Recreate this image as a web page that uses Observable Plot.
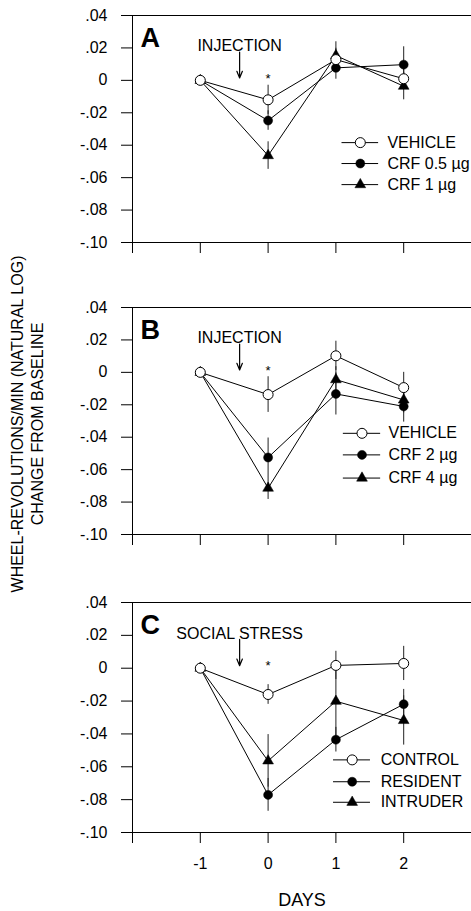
<!DOCTYPE html>
<html>
<head>
<meta charset="utf-8">
<script src="https://cdn.jsdelivr.net/npm/d3@7"></script>
<script src="https://cdn.jsdelivr.net/npm/@observablehq/plot@0.6"></script>
<style>
  html, body { margin: 0; padding: 0; background: #fff; }
  #wrap { position: relative; width: 471px; height: 911px; background: #fff; overflow: hidden;
          font-family: "Liberation Sans", Arial, Helvetica, sans-serif; color: #000; }
  .panel { position: absolute; left: 0; }
  #ytitle { position: absolute; left: 28px; top: 424px; transform: translate(-50%, -50%) rotate(-90deg);
            white-space: nowrap; text-align: center; font-size: 16px; line-height: 20px; }
</style>
</head>
<body>
<div id="wrap">
  <div id="ytitle">WHEEL-REVOLUTIONS/MIN (NATURAL LOG)<br>CHANGE FROM BASELINE</div>
</div>
<script>
// ---------- data ----------
const days = [-1, 0, 1, 2];
const yTicks = [0.04, 0.02, 0, -0.02, -0.04, -0.06, -0.08, -0.10];
const yTickLabels = [".04", ".02", "0", "-.02", "-.04", "-.06", "-.08", "-.10"];
const xTicks = [-2, -1, 0, 1, 2];
const xTickLabels = ["", "-1", "0", "1", "2"];

// Panel A
const aNames = ["VEHICLE", "CRF 0.5 \u00b5g", "CRF 1 \u00b5g"];
const aVehicle = [0, -0.012, 0.0128, 0.001];
const aVehicleErr = [0, 0.009, 0.007, 0.006];
const aCrf05 = [0, -0.0248, 0.0077, 0.0097];
const aCrf05Err = [0, 0.006, 0.007, 0.011];
const aCrf1 = [0, -0.0464, 0.0153, -0.0036];
const aCrf1Err = [0, 0.0085, 0.0085, 0.0084];

// Panel B
const bNames = ["VEHICLE", "CRF 2 \u00b5g", "CRF 4 \u00b5g"];
const bVehicle = [0, -0.0137, 0.0102, -0.0094];
const bVehicleErr = [0, 0.011, 0.009, 0.0094];
const bCrf2 = [0, -0.0525, -0.0133, -0.021];
const bCrf2Err = [0, 0.012, 0.013, 0.0097];
const bCrf4 = [0, -0.0714, -0.0045, -0.017];
const bCrf4Err = [0, 0.007, 0.008, 0.008];

// Panel C
const cNames = ["CONTROL", "RESIDENT", "INTRUDER"];
const cControl = [0, -0.016, 0.0017, 0.0029];
const cControlErr = [0, 0.006, 0.0086, 0.0104];
const cResident = [0, -0.0771, -0.0435, -0.0219];
const cResidentErr = [0, 0.010, 0.0075, 0.009];
const cIntruder = [0, -0.0564, -0.0201, -0.0318];
const cIntruderErr = [0, 0.016, 0.022, 0.015];

// ---------- drawing ----------
const FONT = '"Liberation Sans", Arial, Helvetica, sans-serif';
const markerStyle = {
  open: {symbol: "circle", r: 5, fill: "white", stroke: "black", strokeWidth: 1},
  filled: {symbol: "circle", r: 4.5, fill: "black", stroke: "black", strokeWidth: 0.5},
  triangle: {symbol: "triangle", r: 4, fill: "black", stroke: "black", strokeWidth: 0.5}
};
const kinds = ["open", "filled", "triangle"];

function rowsOf(name, vals, errs, kind) {
  return days.map((d, i) => ({day: d, value: vals[i], err: errs[i], series: name, kind}));
}

function panel({letter, note, groups, legend, top, height, marginBottom, showXLabels}) {
  const marks = [
    Plot.ruleY([0.04, -0.10], {stroke: "black", strokeWidth: 1}),
    Plot.ruleX([-2], {stroke: "black", strokeWidth: 1}),
    Plot.axisY({ticks: yTicks, tickSize: 11, tickPadding: 14, label: null,
      tickFormat: v => yTickLabels[yTicks.findIndex(t => Math.abs(t - v) < 1e-9)]}),
    Plot.axisX({ticks: xTicks, tickSize: 11, tickPadding: 14, label: null,
      tickFormat: v => showXLabels ? xTickLabels[xTicks.indexOf(v)] : ""})
  ];
  // error bars
  for (const g of groups) {
    marks.push(Plot.ruleX(g.rows.filter(d => d.err > 0), {
      x: "day", y1: d => d.value - d.err, y2: d => d.value + d.err, stroke: "#222", strokeWidth: 1
    }));
  }
  // lines
  for (const g of groups) {
    marks.push(Plot.line(g.rows, {x: "day", y: "value", stroke: "black", strokeWidth: 1}));
  }
  // markers (open circles drawn last so they sit on top)
  for (const g of [...groups].reverse()) {
    marks.push(Plot.dot(g.rows, {x: "day", y: "value", ...markerStyle[g.kind]}));
  }
  // asterisk, arrow, note, panel letter
  marks.push(Plot.text([{x: 0, y: 0, t: "*"}], {x: "x", y: "y", text: "t", dy: -2, fontSize: 13}));
  marks.push(Plot.arrow([{x: -0.42, y1: 0.0175, y2: 0.0015}], {
    x1: "x", x2: "x", y1: "y1", y2: "y2", stroke: "black", strokeWidth: 1.2, headLength: 9, headAngle: 45
  }));
  marks.push(Plot.text([{x: -0.42, y: 0.0212, t: note}], {x: "x", y: "y", text: "t", fontSize: 16}));
  marks.push(Plot.text([{x: -1.74, y: 0.0258, t: letter}], {x: "x", y: "y", text: "t", fontSize: 27, fontWeight: "bold"}));
  // legend
  groups.forEach((g, i) => {
    const ly = legend.ys[i];
    marks.push(Plot.ruleY([{y: ly}], {y: "y", x1: legend.x1, x2: legend.x2, stroke: "black", strokeWidth: 1}));
    marks.push(Plot.dot([{x: legend.xm, y: ly}], {x: "x", y: "y", ...markerStyle[g.kind]}));
    marks.push(Plot.text([{x: legend.xt, y: ly, t: g.name}], {x: "x", y: "y", text: "t", textAnchor: "start", fontSize: 16}));
  });
  if (showXLabels) {
    marks.push(Plot.text(["DAYS"], {frameAnchor: "bottom", text: d => d, dy: 73, fontSize: 18}));
  }
  const svg = Plot.plot({
    width: 471, height, marginLeft: 132, marginRight: 0, marginTop: 15, marginBottom,
    x: {domain: [-2, 3]},
    y: {domain: [-0.10, 0.04]},
    style: {fontFamily: FONT, fontSize: "16px", color: "black", background: "transparent", overflow: "visible"},
    marks
  });
  const holder = document.createElement("div");
  holder.className = "panel";
  holder.style.top = top + "px";
  holder.appendChild(svg);
  document.getElementById("wrap").appendChild(holder);
}

panel({
  letter: "A", note: "INJECTION",
  groups: [
    {name: aNames[0], rows: rowsOf(aNames[0], aVehicle, aVehicleErr), kind: kinds[0]},
    {name: aNames[1], rows: rowsOf(aNames[1], aCrf05, aCrf05Err), kind: kinds[1]},
    {name: aNames[2], rows: rowsOf(aNames[2], aCrf1, aCrf1Err), kind: kinds[2]}
  ],
  legend: {x1: 1.09, x2: 1.63, xm: 1.36, xt: 1.76, ys: [-0.0384, -0.0513, -0.0643]},
  top: 0, height: 260, marginBottom: 18, showXLabels: false
});

panel({
  letter: "B", note: "INJECTION",
  groups: [
    {name: bNames[0], rows: rowsOf(bNames[0], bVehicle, bVehicleErr), kind: kinds[0]},
    {name: bNames[1], rows: rowsOf(bNames[1], bCrf2, bCrf2Err), kind: kinds[1]},
    {name: bNames[2], rows: rowsOf(bNames[2], bCrf4, bCrf4Err), kind: kinds[2]}
  ],
  legend: {x1: 1.11, x2: 1.66, xm: 1.385, xt: 1.776, ys: [-0.0376, -0.0509, -0.0652]},
  top: 292, height: 260, marginBottom: 18, showXLabels: false
});

panel({
  letter: "C", note: "SOCIAL STRESS",
  groups: [
    {name: cNames[0], rows: rowsOf(cNames[0], cControl, cControlErr), kind: kinds[0]},
    {name: cNames[1], rows: rowsOf(cNames[1], cResident, cResidentErr), kind: kinds[1]},
    {name: cNames[2], rows: rowsOf(cNames[2], cIntruder, cIntruderErr), kind: kinds[2]}
  ],
  legend: {x1: 0.965, x2: 1.51, xm: 1.24, xt: 1.66, ys: [-0.0558, -0.0691, -0.0816]},
  top: 587, height: 324, marginBottom: 79, showXLabels: true
});
</script>
</body>
</html>
